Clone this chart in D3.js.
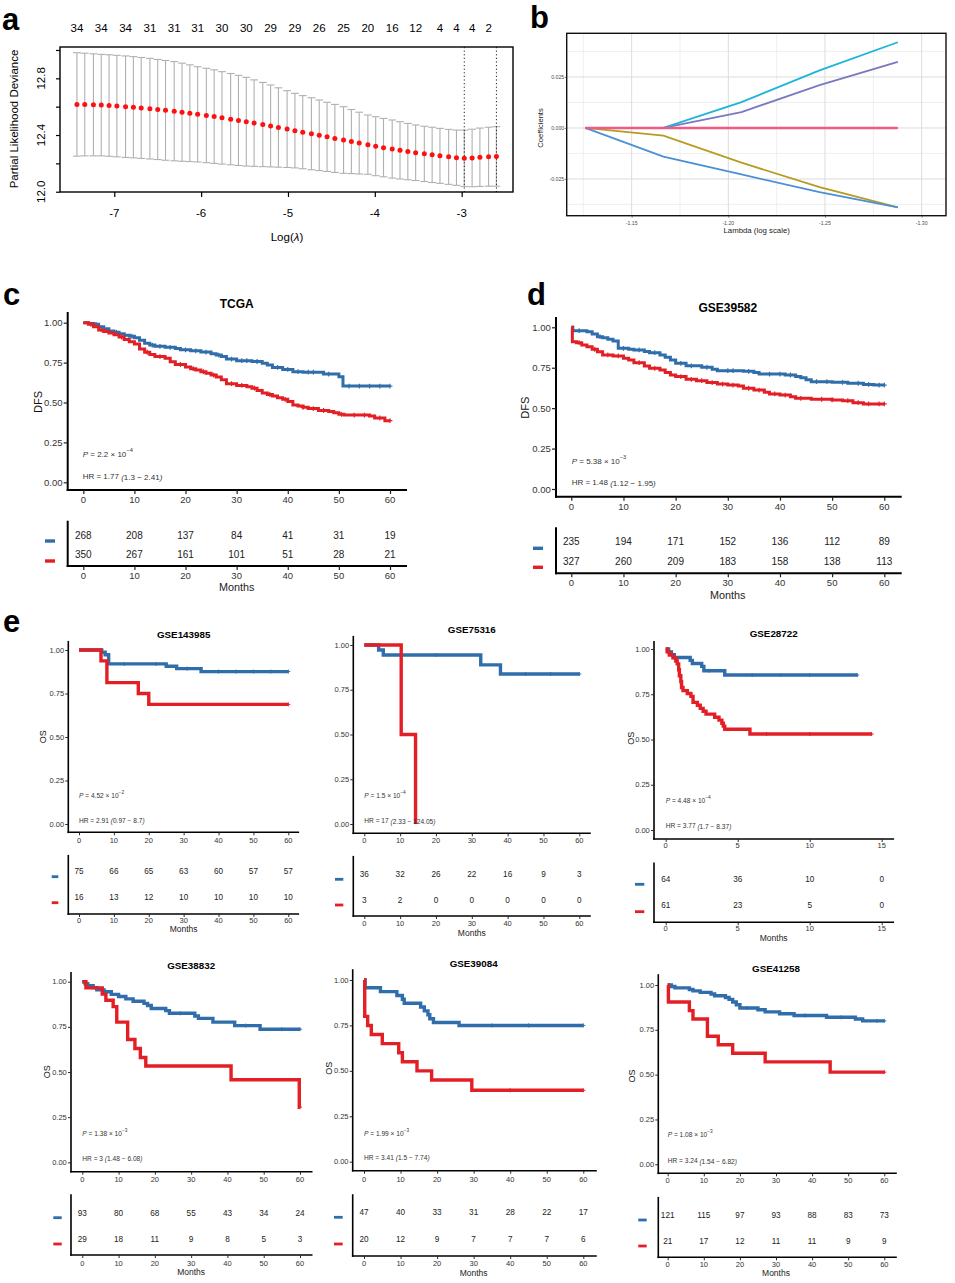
<!DOCTYPE html>
<html><head><meta charset="utf-8">
<script src="https://cdn.jsdelivr.net/npm/d3@7"></script>
<style>body{margin:0;background:#fff}svg{display:block}text{font-family:"Liberation Sans",Arial,Helvetica,sans-serif}</style>
</head><body><svg id="fig" width="955" height="1283"></svg>
<script>
// ================= DATA =================
// ---- Panel a: cross-validated partial likelihood deviance
const aLogLambda = [-7.43,-7.34,-7.24,-7.15,-7.06,-6.97,-6.87,-6.78,-6.69,-6.59,
  -6.50,-6.41,-6.31,-6.22,-6.13,-6.04,-5.94,-5.85,-5.76,-5.66,
  -5.57,-5.48,-5.39,-5.29,-5.20,-5.11,-5.01,-4.92,-4.83,-4.73,
  -4.64,-4.55,-4.46,-4.36,-4.27,-4.18,-4.08,-3.99,-3.90,-3.80,
  -3.71,-3.62,-3.53,-3.43,-3.34,-3.25,-3.15,-3.06,-2.97,-2.88,
  -2.79,-2.69,-2.60];
const aMeanDeviance = [12.616,12.615,12.613,12.611,12.608,12.604,12.600,12.596,12.591,12.586,
  12.580,12.574,12.568,12.561,12.554,12.546,12.538,12.530,12.521,12.512,
  12.503,12.494,12.484,12.474,12.464,12.453,12.442,12.431,12.420,12.409,
  12.398,12.387,12.376,12.365,12.354,12.343,12.332,12.321,12.311,12.301,
  12.292,12.283,12.275,12.267,12.260,12.253,12.246,12.240,12.236,12.238,
  12.243,12.247,12.249];
const aSEDeviance = [0.365,0.362,0.360,0.358,0.358,0.358,0.358,0.357,0.356,0.355,
  0.353,0.352,0.350,0.346,0.341,0.336,0.333,0.330,0.326,0.322,
  0.318,0.313,0.305,0.297,0.289,0.280,0.271,0.263,0.258,0.254,
  0.249,0.244,0.240,0.235,0.226,0.218,0.209,0.208,0.206,0.205,
  0.202,0.199,0.196,0.195,0.195,0.194,0.194,0.195,0.199,0.203,
  0.206,0.208,0.210];
const aTopTickAt = [-7.43,-7.15,-6.87,-6.59,-6.31,-6.04,-5.76,-5.48,-5.20,-4.92,-4.64,-4.36,-4.08,-3.80,-3.53,-3.25,-3.06,-2.88,-2.69];
const aTopTickLabels = ["34","34","34","31","31","31","30","30","29","29","26","25","20","16","12","4","4","4","2"];
const aLambdaMarks = [-2.97,-2.60];
const aYTicks = [12.0,12.2,12.4,12.6,12.8,13.0];
const aYLabelled = [12.0,12.4,12.8];
const aXTicks = [-7,-6,-5,-4,-3];

// ---- Panel b: coefficient paths
const bLogLambda = [-1.126,-1.1664,-1.2068,-1.2472,-1.2877];
const bCoefCyan   = [0,0,0.0127,0.0282,0.0420];
const bCoefPurple = [0,0,0.0078,0.0210,0.0324];
const bCoefOlive  = [0,-0.0038,-0.0170,-0.0290,-0.0389];
const bCoefBlue   = [0,-0.0140,-0.0228,-0.0315,-0.0389];
const bCoefPink   = [0,0,0,0,0];
const bXTicks = [-1.15,-1.20,-1.25,-1.30];
const bXMinor = [-1.125,-1.175,-1.225,-1.275];
const bYTicks = [-0.025,0,0.025];
const bYMinor = [-0.0375,-0.0125,0.0125,0.0375];

// ---- Kaplan-Meier panels
const kmTitles = ["TCGA","GSE39582","GSE143985","GSE75316","GSE28722","GSE38832","GSE39084","GSE41258"];
const kmYLabels = ["DFS","DFS","OS","","OS","OS","OS","OS"];
const kmPMantissa = ["2.2","5.38","4.52","1.5","4.48","1.38","1.99","1.08"];
const kmPExponent = ["\u22124","\u22123","\u22122","\u22124","\u22124","\u22123","\u22123","\u22123"];
const kmHR     = ["1.77","1.48","2.91","17","3.77","3","3.41","3.24"];
const kmHRLow  = ["1.3","1.12","0.97","2.33","1.7","1.48","1.5","1.54"];
const kmHRHigh = ["2.41","1.95","8.7","124.05","8.37","6.08","7.74","6.82"];
const kmYTicks = [0,0.25,0.5,0.75,1];
const months60 = [0,10,20,30,40,50,60];
const months15 = [0,5,10,15];

// TCGA
const cBlueSurv = [[0,1],[1,0.995],[2,0.99],[3,0.975],[4,0.962],[5,0.948],[6,0.94],[7,0.93],[8,0.922],[9,0.915],[10,0.905],[11,0.89],[12,0.872],[13,0.86],[14,0.852],[16,0.846],[18,0.838],[19,0.83],[21,0.824],[23,0.816],[25,0.806],[26,0.797],[27,0.788],[28,0.772],[30,0.762],[33,0.757],[35,0.746],[36,0.735],[37,0.72],[39,0.707],[41,0.693],[43,0.69],[47,0.678],[50,0.662],[50.8,0.603]];
const cRedSurv = [[0,1],[1,0.99],[2,0.975],[3,0.955],[4,0.945],[5,0.935],[6,0.925],[7,0.91],[8,0.895],[9,0.88],[10,0.866],[11,0.835],[12,0.815],[13,0.8],[14,0.788],[16,0.777],[17,0.755],[18,0.738],[20,0.722],[21,0.712],[22,0.703],[23,0.693],[24,0.683],[25,0.672],[26,0.66],[27,0.642],[28,0.618],[30,0.607],[32,0.598],[33,0.59],[34,0.575],[35,0.56],[36,0.55],[37,0.54],[38,0.53],[39,0.52],[40,0.506],[41,0.485],[42,0.478],[43,0.47],[44,0.462],[46,0.45],[48,0.443],[49,0.435],[50,0.426],[51,0.421],[56,0.415],[57,0.403],[59,0.386]];
const cBlueCensor = [2.5,6.5,9.5,13.5,15,17,20,22,24,26.5,29,31,32,34,38,40,42,44,45,48,52,54,56,58,60];
const cRedCensor = [1.5,3.5,7.5,12.5,15,19,21.5,23.5,25.5,29,31,33.5,36.5,39.5,43,45,47,50.5,53,55,58,60];
const cRiskBlue = [268,208,137,84,41,31,19];
const cRiskRed  = [350,267,161,101,51,28,21];

// GSE39582
const dBlueSurv = [[0,1],[0.3,0.979],[3,0.973],[4,0.959],[5,0.942],[6,0.935],[7,0.926],[8,0.915],[9,0.87],[11,0.865],[12,0.86],[14,0.85],[15,0.843],[17,0.829],[18,0.815],[19,0.798],[20,0.777],[22,0.762],[25,0.753],[27,0.74],[28,0.732],[33,0.728],[35,0.72],[36,0.711],[41,0.705],[43,0.695],[44,0.688],[45,0.676],[46,0.664],[50,0.66],[53,0.654],[56,0.647],[58,0.643]];
const dRedSurv = [[0,1],[0.2,0.911],[1,0.905],[2,0.891],[3,0.88],[4,0.864],[5,0.849],[6,0.829],[8,0.823],[10,0.808],[11,0.798],[12,0.781],[14,0.761],[15,0.746],[17,0.736],[18,0.72],[19,0.705],[20,0.695],[22,0.678],[24,0.67],[26,0.658],[28,0.649],[30,0.643],[32,0.637],[33,0.623],[35,0.612],[37,0.598],[38,0.588],[40,0.581],[42,0.571],[43,0.561],[46,0.555],[50,0.551],[52,0.546],[54,0.534],[56,0.526]];
const dBlueCensor = [1.5,5.5,10,13,16,21,23,26,30,31,34,38,40,42,47,49,52,55,57,59,60];
const dRedCensor = [1.5,4.5,7,9,13,16,21,23,25,27,29,31,34,36,39,41,44,48,50,53,55,57,59,60];
const dRiskBlue = [235,194,171,152,136,112,89];
const dRiskRed  = [327,260,209,183,158,138,113];

// GSE143985
const e1BlueSurv = [[0,1],[6.5,0.987],[7.5,0.973],[8.5,0.92],[25,0.907],[28,0.893],[35,0.876]];
const e1RedSurv = [[0,1],[6.3,0.9375],[8,0.8125],[17,0.75],[20,0.6875]];
const e1BlueCensor = [3,13,22,31,40,45,50,55,60];
const e1RedCensor = [60];
const e1RiskBlue = [75,66,65,63,60,57,57];
const e1RiskRed  = [16,13,12,10,10,10,10];

// GSE75316
const e2BlueSurv = [[0,1],[4,0.972],[5.3,0.944],[32.5,0.889],[38,0.838]];
const e2RedSurv = [[0,1],[10.3,0.5],[14.3,0]];
const e2BlueCensor = [2,20,45,52,60];
const e2RedCensor = [];
const e2RiskBlue = [36,32,26,22,16,9,3];
const e2RiskRed  = [3,2,0,0,0,0,0];

// GSE28722
const e3BlueSurv = [[0,1],[0.2,0.984],[0.4,0.969],[0.6,0.953],[1.7,0.937],[1.85,0.92],[2.5,0.904],[2.65,0.88],[4.1,0.856]];
const e3RedSurv = [[0,1],[0.1,0.984],[0.25,0.967],[0.5,0.951],[0.7,0.934],[0.8,0.918],[0.9,0.885],[0.95,0.852],[1.05,0.82],[1.1,0.787],[1.2,0.77],[1.5,0.754],[1.75,0.738],[1.9,0.705],[2.2,0.689],[2.4,0.672],[2.6,0.656],[2.8,0.64],[3.4,0.623],[3.7,0.607],[3.9,0.59],[4.0,0.574],[4.1,0.557],[5.85,0.53]];
const e3BlueCensor = [3,6,8,10,13.3];
const e3RedCensor = [7,10,14.3];
const e3RiskBlue = [64,36,10,0];
const e3RiskRed  = [61,23,5,0];

// GSE38832
const e4BlueSurv = [[0,1],[0.8,0.989],[1.5,0.978],[3,0.967],[4,0.955],[6,0.944],[8,0.93],[10,0.918],[12,0.905],[14,0.892],[17,0.88],[18,0.868],[19,0.852],[23,0.84],[24,0.825],[31,0.81],[32,0.797],[36,0.776],[42,0.757],[49,0.737]];
const e4RedSurv = [[0,1],[1,0.966],[5.5,0.931],[6.5,0.897],[8.5,0.862],[9.5,0.776],[12.5,0.68],[14.5,0.63],[16,0.58],[17.5,0.533],[41,0.457],[59.8,0.305]];
const e4BlueCensor = [27,45,55,60];
const e4RedCensor = [60];
const e4RiskBlue = [93,80,68,55,43,34,24];
const e4RiskRed  = [29,18,11,9,8,5,3];

// GSE39084
const e5BlueSurv = [[0,1],[0.3,0.957],[4.5,0.936],[9,0.915],[10.5,0.894],[11,0.872],[15.5,0.851],[16.5,0.83],[17.5,0.809],[18,0.787],[19,0.766],[26,0.75]];
const e5RedSurv = [[0,1],[0.2,0.8],[1,0.75],[2,0.7],[5,0.65],[9.5,0.6],[10.5,0.55],[14.5,0.5],[18.5,0.45],[29.5,0.393]];
const e5BlueCensor = [35,45,60];
const e5RedCensor = [40,60];
const e5RiskBlue = [47,40,33,31,28,22,17];
const e5RiskRed  = [20,12,9,7,7,7,6];

// GSE41258
const e6BlueSurv = [[0,1],[1,0.992],[2,0.984],[6,0.975],[7,0.967],[9,0.959],[12,0.95],[13,0.94],[16,0.93],[17,0.92],[18,0.905],[19,0.89],[20,0.872],[25,0.862],[27,0.85],[31,0.84],[35,0.83],[44,0.82],[52,0.81],[54,0.8]];
const e6RedSurv = [[0,1],[0.2,0.905],[6,0.857],[7,0.81],[11,0.714],[14,0.667],[18,0.619],[27,0.571],[45,0.514]];
const e6BlueCensor = [22,38,48,58,60];
const e6RedCensor = [60];
const e6RiskBlue = [121,115,97,93,88,83,73];
const e6RiskRed  = [21,17,12,11,11,9,9];

const kmBlueEnd = [60,60,60,60,13.3,60,60,60];
const kmRedEnd  = [60,60,60,14.3,14.3,60,60,60];

// ================= DRAWING =================
const svg = d3.select("#fig");
const BLUE = "#2f6eaa", RED = "#e31f26";

function txt(g, x, y, s, o = {}) {
  const t = g.append("text").attr("x", x).attr("y", y).text(s)
    .attr("font-size", o.size || 10).attr("fill", o.fill || "#000")
    .attr("text-anchor", o.anchor || "start")
    .attr("dominant-baseline", o.base || "central");
  if (o.weight) t.attr("font-weight", o.weight);
  if (o.style) t.attr("font-style", o.style);
  if (o.rotate) t.attr("transform", `rotate(${o.rotate},${x},${y})`);
  return t;
}

// panel letters
[["a",2,30],["b",530,28],["c",3,305],["d",527,305],["e",3,632]].forEach(([l,x,y]) =>
  txt(svg, x, y, l, {size: 31, weight: "bold", base: "alphabetic"}));

// ---------- Panel a ----------
(function(){
  const g = svg.append("g");
  const x = d3.scaleLinear().domain([-7.625, -2.409]).range([60, 513]);
  const y = d3.scaleLinear().domain([11.998, 13.021]).range([192, 47]);
  const idx = d3.range(aLogLambda.length);
  const grey = "#b0b0b0";
  g.selectAll("line.eb").data(idx).join("line")
    .attr("x1", i => x(aLogLambda[i])).attr("x2", i => x(aLogLambda[i]))
    .attr("y1", i => y(aMeanDeviance[i] - aSEDeviance[i]))
    .attr("y2", i => y(aMeanDeviance[i] + aSEDeviance[i]))
    .attr("stroke", grey).attr("stroke-width", 1.1);
  ["lo","hi"].forEach(k => {
    g.selectAll("line.cap" + k).data(idx).join("line")
      .attr("x1", i => x(aLogLambda[i]) - 3.9).attr("x2", i => x(aLogLambda[i]) + 3.9)
      .attr("y1", i => y(aMeanDeviance[i] + (k === "hi" ? 1 : -1) * aSEDeviance[i]))
      .attr("y2", i => y(aMeanDeviance[i] + (k === "hi" ? 1 : -1) * aSEDeviance[i]))
      .attr("stroke", grey).attr("stroke-width", 1.1);
  });
  g.selectAll("line.vl").data(aLambdaMarks).join("line")
    .attr("x1", d => x(d)).attr("x2", d => x(d)).attr("y1", 47).attr("y2", 192)
    .attr("stroke", "#222").attr("stroke-width", 1).attr("stroke-dasharray", "1.2,2.4");
  g.selectAll("circle").data(idx).join("circle")
    .attr("cx", i => x(aLogLambda[i])).attr("cy", i => y(aMeanDeviance[i]))
    .attr("r", 2.5).attr("fill", "#ff1010");
  g.append("rect").attr("x", 60).attr("y", 47).attr("width", 453).attr("height", 145)
    .attr("fill", "none").attr("stroke", "#000").attr("stroke-width", 1.4);
  const ya = g.append("g").attr("transform", "translate(60,0)")
    .call(d3.axisLeft(y).tickValues(aYTicks).tickSize(4).tickFormat(""));
  ya.select(".domain").remove();
  ya.selectAll(".tick line").attr("stroke", "#000").attr("stroke-width", 1.2);
  aYLabelled.forEach(v => txt(g, 41, y(v), v.toFixed(1), {size: 11.5, anchor: "middle", rotate: -90}));
  const xa = g.append("g").attr("transform", "translate(0,192)")
    .call(d3.axisBottom(x).tickValues(aXTicks).tickSize(5).tickFormat(""));
  xa.select(".domain").remove();
  xa.selectAll(".tick line").attr("stroke", "#000").attr("stroke-width", 1.2);
  aXTicks.forEach(v => txt(g, x(v), 213, String(v), {size: 11.5, anchor: "middle"}));
  aTopTickAt.forEach((v, i) => txt(g, x(v), 28, aTopTickLabels[i], {size: 11.5, anchor: "middle"}));
  txt(g, 14, 119, "Partial Likelihood Deviance", {size: 11.5, anchor: "middle", rotate: -90});
  const t = txt(g, 287, 237, "Log(", {size: 11.5, anchor: "middle"});
  t.append("tspan").attr("font-style", "italic").text("\u03BB");
  t.append("tspan").text(")");
})();

// ---------- Panel b ----------
(function(){
  const g = svg.append("g");
  const x = d3.scaleLinear().domain([-1.1164, -1.3126]).range([566.7, 946]);
  const y = d3.scaleLinear().domain([0.0464, -0.0430]).range([33.3, 215.7]);
  const L = 566.7, R = 946, T = 33.3, B = 215.7;
  g.append("rect").attr("x", L).attr("y", T).attr("width", R - L).attr("height", B - T).attr("fill", "#fff");
  bXMinor.forEach(v => g.append("line").attr("x1", x(v)).attr("x2", x(v)).attr("y1", T).attr("y2", B).attr("stroke", "#ececec").attr("stroke-width", 0.8));
  bYMinor.forEach(v => g.append("line").attr("y1", y(v)).attr("y2", y(v)).attr("x1", L).attr("x2", R).attr("stroke", "#ececec").attr("stroke-width", 0.8));
  bXTicks.forEach(v => g.append("line").attr("x1", x(v)).attr("x2", x(v)).attr("y1", T).attr("y2", B).attr("stroke", "#dcdcdc").attr("stroke-width", 1));
  bYTicks.forEach(v => g.append("line").attr("y1", y(v)).attr("y2", y(v)).attr("x1", L).attr("x2", R).attr("stroke", "#dcdcdc").attr("stroke-width", 1));
  const line = d3.line().x((d, i) => x(bLogLambda[i])).y(d => y(d));
  [[bCoefOlive, "#b59c22", 1.8], [bCoefBlue, "#4b8fd6", 1.8], [bCoefPurple, "#7a78c0", 1.8],
   [bCoefCyan, "#1db4da", 1.8], [bCoefPink, "#f25a82", 2.6]].forEach(([vals, col, w]) =>
    g.append("path").attr("d", line(vals)).attr("fill", "none").attr("stroke", col).attr("stroke-width", w));
  g.append("rect").attr("x", L).attr("y", T).attr("width", R - L).attr("height", B - T)
    .attr("fill", "none").attr("stroke", "#111").attr("stroke-width", 1.4);
  const ya = g.append("g").attr("transform", `translate(${L},0)`)
    .call(d3.axisLeft(y).tickValues(bYTicks).tickSize(2).tickFormat(""));
  ya.select(".domain").remove();
  ya.selectAll(".tick line").attr("stroke", "#333").attr("stroke-width", 0.6);
  const xa = g.append("g").attr("transform", `translate(0,${B})`)
    .call(d3.axisBottom(x).tickValues(bXTicks).tickSize(2).tickFormat(""));
  xa.select(".domain").remove();
  xa.selectAll(".tick line").attr("stroke", "#333").attr("stroke-width", 0.6);
  bYTicks.forEach(v => txt(g, L - 2.5, y(v), v.toFixed(3), {size: 5.2, anchor: "end", fill: "#4d4d4d"}));
  bXTicks.forEach(v => txt(g, x(v), 222.5, v.toFixed(2), {size: 5.2, anchor: "middle", fill: "#4d4d4d"}));
  txt(g, 540, 128, "Coefficients", {size: 7.6, anchor: "middle", rotate: -90, fill: "#222"});
  txt(g, 756.7, 230, "Lambda (log scale)", {size: 7.8, anchor: "middle", fill: "#222"});
})();

// ---------- Kaplan-Meier panels ----------
const styleBig = {tick: 4, axisW: 2, fsTick: 9.5, fsRisk: 10, fsMonths: 10.8, fsTitle: 12, fsYlab: 11, fsAnnot: 8, curveW: 3, cens: 2.4, censW: 1.2, dashH: 3.4};
const styleSmall = {tick: 3, axisW: 1.6, fsTick: 7.5, fsRisk: 8.2, fsMonths: 8.5, fsTitle: 9.8, fsYlab: 9, fsAnnot: 6.6, curveW: 3.4, cens: 2, censW: 1, dashH: 2.8};

const kmLayouts = [
  {left:67.7,right:406,top:313,bottom:490,x0:83.3,xMax:390,y0:482.3,y1:322.7,xTickY:499.3,titleY:304,ylabX:37.7,ylabY:402,pX:82.7,pY:454,hrY:476.7,rTop:521.7,rBottom:566,row1:535,row2:554.3,dashX0:45,dashX1:55,dash1Y:541,dash2Y:561,rTickY:575,monthsY:587.3,st:styleBig},
  {left:556,right:900.7,top:318,bottom:496.7,x0:571.3,xMax:884.3,y0:489,y1:327.3,xTickY:506,titleY:308.3,ylabX:525,ylabY:407.7,pX:571.7,pY:461,hrY:482.7,rTop:528.3,rBottom:573.3,row1:541.7,row2:561.7,dashX0:533,dashX1:543,dash1Y:548.3,dash2Y:567.3,rTickY:582.7,monthsY:595,st:styleBig},
  {left:68.3,right:298.3,top:641.7,bottom:832.3,x0:79,xMax:288.3,y0:824,y1:650,xTickY:840,titleY:634,ylabX:43.3,ylabY:736.7,pX:79,pY:795,hrY:820,rTop:855.7,rBottom:914,row1:871.7,row2:897.3,dashX0:51.7,dashX1:58.3,dash1Y:876.7,dash2Y:902.7,rTickY:920,monthsY:929,st:styleSmall},
  {left:353.3,right:590,top:636.7,bottom:833.3,x0:364.3,xMax:579.3,y0:824,y1:645,xTickY:840,titleY:629.3,ylabX:330,ylabY:735,pX:364.3,pY:795,hrY:820.7,rTop:856.7,rBottom:916,row1:874.3,row2:900.7,dashX0:335,dashX1:343.3,dash1Y:879.3,dash2Y:905,rTickY:923.3,monthsY:932.7,st:styleSmall},
  {left:654,right:893.3,top:641.7,bottom:839,x0:665.7,xMax:881.7,y0:830,y1:649,xTickY:845,titleY:633.3,ylabX:630.7,ylabY:738.3,pX:665.7,pY:800,hrY:825.7,rTop:863.3,rBottom:922.3,row1:879,row2:905.7,dashX0:635,dashX1:644.3,dash1Y:884.3,dash2Y:911.7,rTickY:928.3,monthsY:938.3,st:styleSmall},
  {left:71,right:311.7,top:972.7,bottom:1171.7,x0:82.3,xMax:300,y0:1162.3,y1:981.7,xTickY:1179.3,titleY:965,ylabX:46.7,ylabY:1071.7,pX:82.3,pY:1133.3,hrY:1158.3,rTop:1195,rBottom:1255,row1:1213.3,row2:1239.3,dashX0:53.3,dashX1:61.7,dash1Y:1217.7,dash2Y:1244,rTickY:1263.3,monthsY:1272.3,st:styleSmall},
  {left:352.7,right:596,top:970,bottom:1170.7,x0:364,xMax:583.3,y0:1161.7,y1:980,xTickY:1179.3,titleY:963.3,ylabX:329.3,ylabY:1068.3,pX:364,pY:1132.7,hrY:1157.3,rTop:1195,rBottom:1256,row1:1212.7,row2:1239.3,dashX0:334,dashX1:342.7,dash1Y:1217.3,dash2Y:1244,rTickY:1263.3,monthsY:1272.7,st:styleSmall},
  {left:658.3,right:896,top:975,bottom:1173.3,x0:667.7,xMax:884.3,y0:1164.3,y1:985,xTickY:1180.7,titleY:968.3,ylabX:631.7,ylabY:1076,pX:667.7,pY:1134.3,hrY:1160.7,rTop:1197.7,rBottom:1257.3,row1:1215,row2:1241,dashX0:638.3,dashX1:646.7,dash1Y:1220,dash2Y:1246,rTickY:1264,monthsY:1273.3,st:styleSmall}
];

const kmData = [
  {blue:cBlueSurv, red:cRedSurv, bc:cBlueCensor, rc:cRedCensor, rb:cRiskBlue, rr:cRiskRed, months:months60},
  {blue:dBlueSurv, red:dRedSurv, bc:dBlueCensor, rc:dRedCensor, rb:dRiskBlue, rr:dRiskRed, months:months60},
  {blue:e1BlueSurv, red:e1RedSurv, bc:e1BlueCensor, rc:e1RedCensor, rb:e1RiskBlue, rr:e1RiskRed, months:months60},
  {blue:e2BlueSurv, red:e2RedSurv, bc:e2BlueCensor, rc:e2RedCensor, rb:e2RiskBlue, rr:e2RiskRed, months:months60},
  {blue:e3BlueSurv, red:e3RedSurv, bc:e3BlueCensor, rc:e3RedCensor, rb:e3RiskBlue, rr:e3RiskRed, months:months15},
  {blue:e4BlueSurv, red:e4RedSurv, bc:e4BlueCensor, rc:e4RedCensor, rb:e4RiskBlue, rr:e4RiskRed, months:months60},
  {blue:e5BlueSurv, red:e5RedSurv, bc:e5BlueCensor, rc:e5RedCensor, rb:e5RiskBlue, rr:e5RiskRed, months:months60},
  {blue:e6BlueSurv, red:e6RedSurv, bc:e6BlueCensor, rc:e6RedCensor, rb:e6RiskBlue, rr:e6RiskRed, months:months60}
];

function survAt(curve, t) {
  let s = curve[0][1];
  for (const [ti, si] of curve) { if (ti <= t) s = si; else break; }
  return s;
}

function drawKM(k) {
  const L = kmLayouts[k], D = kmData[k], S = L.st;
  const g = svg.append("g");
  const tMax = D.months[D.months.length - 1];
  const x = d3.scaleLinear().domain([0, tMax]).range([L.x0, L.xMax]);
  const y = d3.scaleLinear().domain([0, 1]).range([L.y0, L.y1]);
  const axisLine = (x1, y1, x2, y2) => g.append("line").attr("x1", x1).attr("y1", y1).attr("x2", x2).attr("y2", y2)
    .attr("stroke", "#000").attr("stroke-width", S.axisW).attr("stroke-linecap", "square");
  const styleAxis = sel => { sel.select(".domain").remove(); sel.selectAll(".tick line").attr("stroke", "#222").attr("stroke-width", S.axisW * 0.6); };

  // curves
  const line = d3.line().x(d => x(d[0])).y(d => y(d[1])).curve(d3.curveStepAfter);
  [[D.blue, kmBlueEnd[k], D.bc, BLUE], [D.red, kmRedEnd[k], D.rc, RED]].forEach(([curve, end, cens, col]) => {
    const pts = curve.concat([[end, curve[curve.length - 1][1]]]);
    g.append("path").attr("d", line(pts)).attr("fill", "none").attr("stroke", col)
      .attr("stroke-width", S.curveW);
    g.append("path").attr("d", cens.map(t => {
        const cx = x(t), cy = y(survAt(curve, t)), s = S.cens;
        return `M${cx - s},${cy}H${cx + s}M${cx},${cy - s}V${cy + s}`;
      }).join("")).attr("stroke", col).attr("stroke-width", S.censW).attr("fill", "none");
  });

  // main axes
  axisLine(L.left, L.top, L.left, L.bottom);
  axisLine(L.left, L.bottom, L.right, L.bottom);
  g.append("g").attr("transform", `translate(${L.left},0)`)
    .call(d3.axisLeft(y).tickValues(kmYTicks).tickSize(S.tick).tickFormat("")).call(styleAxis);
  g.append("g").attr("transform", `translate(0,${L.bottom})`)
    .call(d3.axisBottom(x).tickValues(D.months).tickSize(S.tick).tickFormat("")).call(styleAxis);
  kmYTicks.forEach(v => txt(g, L.left - S.tick - 1.2, y(v), v.toFixed(2), {size: S.fsTick, anchor: "end", fill: "#333"}));
  D.months.forEach(v => txt(g, x(v), L.xTickY, String(v), {size: S.fsTick, anchor: "middle", fill: "#333"}));

  // title & y label
  txt(g, x(tMax / 2), L.titleY, kmTitles[k], {size: S.fsTitle, anchor: "middle", weight: "bold"});
  if (kmYLabels[k]) txt(g, L.ylabX, L.ylabY, kmYLabels[k], {size: S.fsYlab, anchor: "middle", rotate: -90, fill: "#111"});

  // annotation
  const p = txt(g, L.pX, L.pY, "", {size: S.fsAnnot, fill: "#333"});
  p.append("tspan").attr("font-style", "italic").text("P");
  p.append("tspan").text(" = " + kmPMantissa[k] + " \u00D7 10");
  p.append("tspan").attr("dy", -S.fsAnnot * 0.45).attr("font-size", S.fsAnnot * 0.72).text(kmPExponent[k]);
  const h = txt(g, L.pX, L.hrY, "HR = " + kmHR[k] + " ", {size: S.fsAnnot, fill: "#333"});
  h.append("tspan").attr("font-style", "italic").text("(");
  h.append("tspan").text(kmHRLow[k] + " \u2212 " + kmHRHigh[k]);
  h.append("tspan").attr("font-style", "italic").text(")");

  // risk table
  axisLine(L.left, L.rTop, L.left, L.rBottom);
  axisLine(L.left, L.rBottom, L.right, L.rBottom);
  g.append("g").attr("transform", `translate(0,${L.rBottom})`)
    .call(d3.axisBottom(x).tickValues(D.months).tickSize(S.tick).tickFormat("")).call(styleAxis);
  D.months.forEach((v, i) => {
    txt(g, x(v), L.row1, String(D.rb[i]), {size: S.fsRisk, anchor: "middle", fill: "#222"});
    txt(g, x(v), L.row2, String(D.rr[i]), {size: S.fsRisk, anchor: "middle", fill: "#222"});
    txt(g, x(v), L.rTickY, String(v), {size: S.fsTick, anchor: "middle", fill: "#333"});
  });
  g.append("rect").attr("x", L.dashX0).attr("y", L.dash1Y - S.dashH / 2).attr("width", L.dashX1 - L.dashX0).attr("height", S.dashH).attr("fill", BLUE);
  g.append("rect").attr("x", L.dashX0).attr("y", L.dash2Y - S.dashH / 2).attr("width", L.dashX1 - L.dashX0).attr("height", S.dashH).attr("fill", RED);
  txt(g, x(tMax / 2), L.monthsY, "Months", {size: S.fsMonths, anchor: "middle", fill: "#222"});
}
kmTitles.forEach((_, k) => drawKM(k));
</script>
</body></html>
